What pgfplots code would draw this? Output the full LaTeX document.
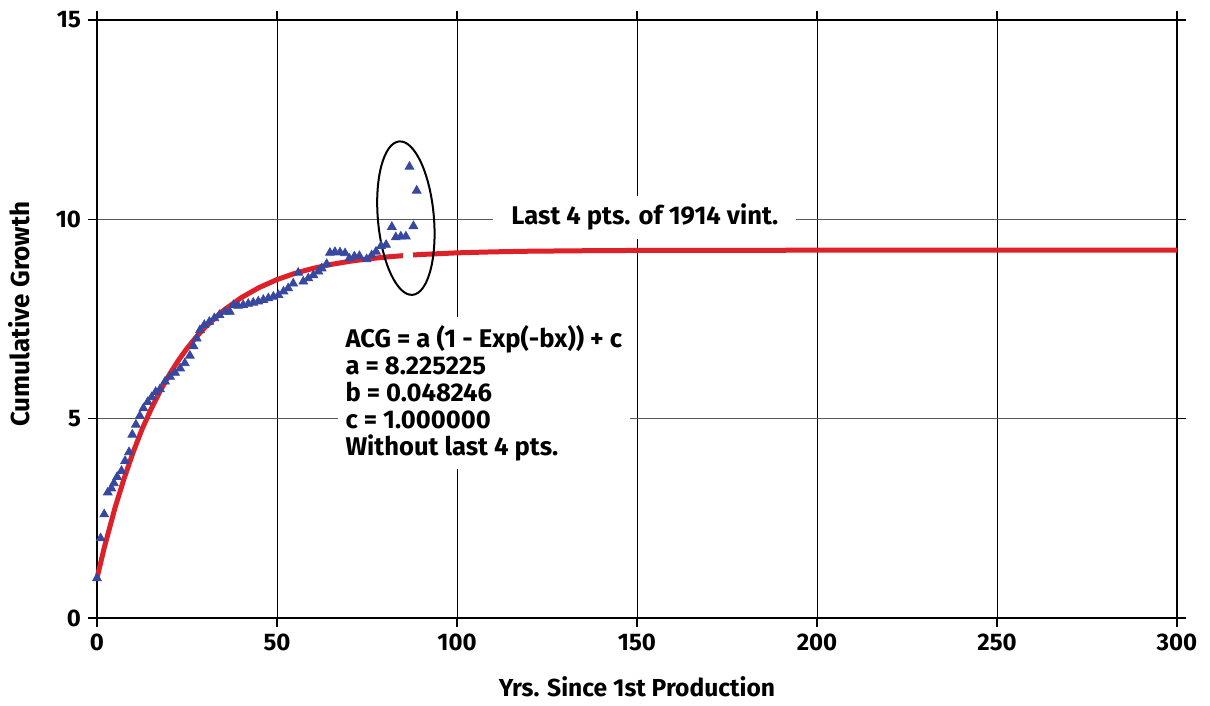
\documentclass[border=0pt]{standalone}
\usepackage{pgfplots}
\pgfplotsset{compat=1.18}
\usepackage{fontspec}
\setmainfont{Fira Sans}
\usetikzlibrary{shapes.geometric}

\definecolor{fitred}{RGB}{222,32,40}
\definecolor{ptblue}{RGB}{55,72,160}

\begin{document}
\begin{tikzpicture}
\begin{axis}[
    name=ax,
    scale only axis,
    width=540pt, height=299pt,
    xmin=0, xmax=300, ymin=0, ymax=15,
    xtick={0,50,...,300},
    ytick={0,5,10,15},
    tick align=outside,
    major tick length=4.5pt,
    tick style={black, line width=0.6pt},
    axis line style={black, line width=0.9pt},
    grid=major,
    major x grid style={black, line width=0.5pt},
    major y grid style={black!65, line width=0.6pt},
    /pgf/number format/assume math mode=true,
    ticklabel style={font=\fontsize{12}{14}\selectfont\bfseries},
    xlabel={Yrs. Since 1st Production},
    ylabel={Cumulative Growth},
    xlabel style={font=\fontsize{12.3}{14}\selectfont\bfseries,
        at={(axis description cs:0.5,0)}, anchor=base, yshift=-39.5pt},
    ylabel style={font=\fontsize{13}{15}\selectfont\bfseries,
        at={([xshift=-39pt]axis description cs:0,0.508)}, anchor=center},
    clip=false,
]
% fitted curve ACG = a(1-exp(-bx))+c, sampled
\addplot[fitred, line width=2.5pt, no marks] coordinates {
(0,1.000) (2,1.757) (5,2.763) (7.5,3.492) (10,4.148) (12.5,4.732) (15,5.236)
(17.5,5.686) (20,6.091) (22.5,6.447) (25,6.763) (27.5,7.041) (30,7.291)
(35,7.705) (40,8.031) (45,8.287) (50,8.488) (55,8.646) (60,8.770)
(65,8.868) (70,8.944) (75,9.005) (80,9.052) (85,9.089)
};
\addplot[fitred, line width=2.5pt, no marks] coordinates {
(87.8,9.106) (90,9.118) (100,9.159) (110,9.184) (120,9.200) (140,9.216)
(160,9.222) (200,9.225) (250,9.225) (300,9.225)
};
% observed cumulative growth
\addplot[only marks, mark=triangle*, mark size=2.5pt, ptblue] coordinates {
(0,1.0) (1,2.0) (2,2.6) (3,3.15) (4,3.25) (4.7,3.38) (5.6,3.54) (6.8,3.69)
(7.8,3.94) (8.9,4.16) (9.8,4.6) (10.8,4.85) (11.9,5.07) (12.9,5.26) (14.1,5.42)
(15.2,5.54) (16.3,5.67) (17.5,5.74) (18.9,5.93) (20.3,6.05) (21.7,6.15)
(23.1,6.26) (24.4,6.39) (25.8,6.58) (26.8,6.82) (27.7,7.01) (28.6,7.22)
(29.8,7.35) (31.2,7.43) (32.6,7.52) (34,7.6) (35.6,7.68) (36.9,7.68)
(37.9,7.85) (39.2,7.83) (40.6,7.85) (42,7.88) (43.4,7.91) (44.8,7.94)
(46.2,7.98) (47.6,8.02) (49,8.06) (50.4,8.1) (51.8,8.19) (53.1,8.27)
(54.5,8.39) (55.9,8.66) (57.3,8.44) (58.7,8.52) (60.1,8.6) (61.5,8.69)
(62.4,8.77) (63.8,8.88) (64.7,9.16) (66.1,9.18) (67.5,9.17) (68.9,9.15)
(70.1,9.02) (71.5,9.07) (72.9,9.08) (74.9,9.0) (76.3,9.1) (77.5,9.19)
(78.9,9.33) (80.3,9.36) (81.9,9.81) (83,9.55) (84.4,9.57) (85.8,9.57)
(86.8,11.32) (87.9,9.83) (88.8,10.72)
};
\node[ellipse, draw=black, line width=1pt, minimum width=28pt, minimum height=77pt,
      inner sep=0pt, rotate=5] at (axis cs:85.8,10.03) {};
\node[fill=white, inner xsep=9pt, inner ysep=4pt,
      font=\fontsize{12.8}{13.5}\selectfont\bfseries]
  at (axis cs:152.2,10.05) {Last 4 pts. of 1914 vint.};
\node[fill=white, inner sep=4pt, anchor=north west, align=left,
      font=\fontsize{12.8}{13.5}\selectfont\bfseries]
  at (axis cs:66.7,7.55) {ACG = a (1 - Exp(-bx)) + c\\a = 8.225225\\b = 0.048246\\c = 1.000000\\Without last 4 pts.};
\end{axis}
\pgfresetboundingbox
\path[use as bounding box] ([xshift=-48.5pt,yshift=-44pt]ax.south west)
  rectangle ([xshift=16.5pt,yshift=10pt]ax.north east);
\end{tikzpicture}
\end{document}
